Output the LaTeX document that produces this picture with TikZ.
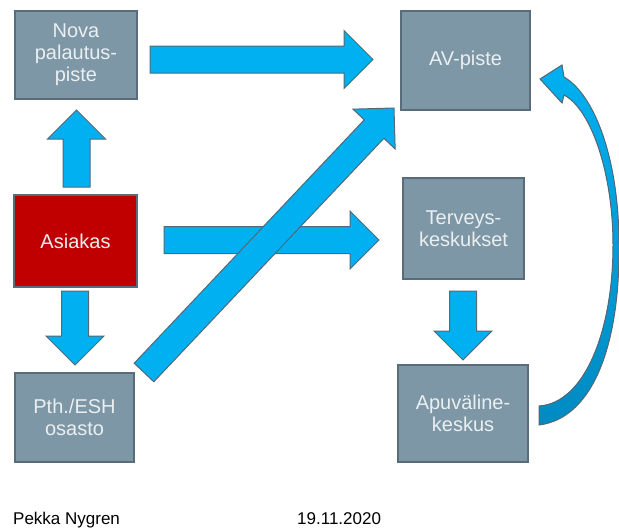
\documentclass[tikz,border=0pt]{standalone}
\usepackage{fontspec}
\setmainfont{Liberation Sans}
\usetikzlibrary{calc}

\definecolor{boxgrey}{RGB}{125,151,166}
\definecolor{boxline}{RGB}{88,108,122}
\definecolor{asred}{RGB}{192,0,0}
\definecolor{arrblue}{RGB}{0,176,240}
\definecolor{arrdark}{RGB}{0,138,194}
\definecolor{arrline}{RGB}{84,104,118}
\definecolor{boxtext}{RGB}{234,239,242}

\newcommand{\shaftw}{13.5pt}
\newcommand{\headw}{29pt}
\newcommand{\headl}{29pt}

% block arrow from tail #1 to tip #2
\newcommand{\blockarrow}[2]{%
  \coordinate (hb) at ($(#2)!\headl!(#1)$);
  \draw[blockarr] ($(#1)!\shaftw!90:(#2)$) -- ($(hb)!\shaftw!90:(#2)$) -- ($(hb)!\headw!90:(#2)$)
    -- (#2) -- ($(hb)!\headw!-90:(#2)$) -- ($(hb)!\shaftw!-90:(#2)$) -- ($(#1)!\shaftw!-90:(#2)$) -- cycle;}

\tikzset{
  box/.style={draw=boxline, line width=1.2pt, fill=boxgrey, text=boxtext, align=center,
    font=\fontsize{20}{22}\selectfont, inner sep=2pt},
  blockarr/.style={draw=arrline, line width=1pt, fill=arrblue, line join=miter},
  footer/.style={font=\fontsize{17}{20}\selectfont, inner sep=0pt, anchor=base west},
}

\begin{document}
\begin{tikzpicture}[x=1pt, y=-1pt]
                \useasboundingbox (0,0) rectangle (619,528);

                \node[box, minimum width=122pt, minimum height=88pt] (b_nova) at (76,55) {Nova\\palautus-\\piste};
                \node[box, minimum width=129pt, minimum height=99pt] (b_av) at (465.5,60.5) {AV-piste};
                \node[box, fill=asred, minimum width=123pt, minimum height=92pt] (b_asiakas) at (75.5,241) {Asiakas};
                \node[box, minimum width=121pt, minimum height=101pt] (b_terveys) at (463.5,228.5) {Terveys-\\keskukset};
                \node[box, minimum width=119pt, minimum height=89pt] (b_pth) at (74.5,417.5) {Pth./ESH\\osasto};
                \node[box, minimum width=130pt, minimum height=97pt] (b_apu) at (463,413.5) {Apuväline-\\keskus};

                \coordinate (a_nova) at (150,59.5);
                \coordinate (a_av) at (373,59.5);
                \coordinate (a_asup) at (76.5,187);
                \coordinate (a_novadn) at (76.5,110);
                \coordinate (a_asrt) at (164,240);
                \coordinate (a_terlt) at (379,240);
                \coordinate (a_asdn) at (75,291);
                \coordinate (a_pthup) at (75,365);
                \coordinate (a_terdn) at (463,291);
                \coordinate (a_apuup) at (463,360);
                \coordinate (a_pth) at (144,372.5);
                \coordinate (a_avdiag) at (394,108);

                \blockarrow{a_nova}{a_av}
                \blockarrow{a_asup}{a_novadn}
                \blockarrow{a_asrt}{a_terlt}
                \blockarrow{a_asdn}{a_pthup}
                \blockarrow{a_terdn}{a_apuup}
                \blockarrow{a_pth}{a_avdiag}

                % curved arrow back to AV-piste
                \draw[blockarr, top color=arrblue, bottom color=arrdark]
                (539,425) .. controls (595,418) and (620,340) .. (619,245)
                .. controls (619,160) and (595,95) .. (564,77)
                -- (562,65) -- (540,79) -- (562,103) -- (564,95)
                .. controls (592,110) and (613,175) .. (613,245)
                .. controls (613,330) and (585,403) .. (539,406) -- cycle;

                \node[footer] (f_name) at (13,524) {Pekka Nygren};
                \node[footer] (f_date) at (297,524) {19.11.2020};
            \end{tikzpicture}
\end{document}
